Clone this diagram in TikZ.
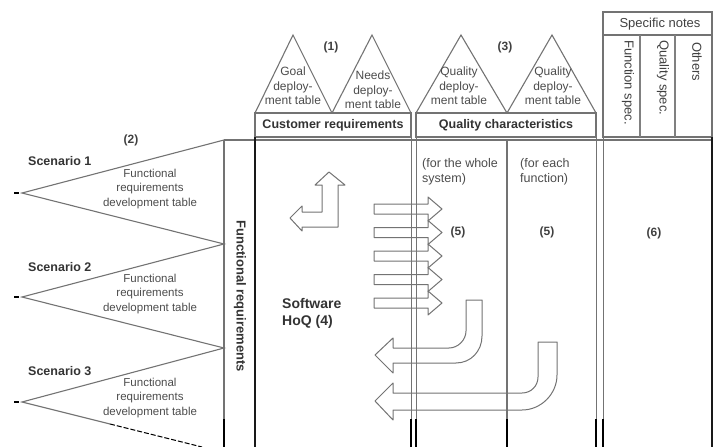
\documentclass[tikz,border=0pt]{standalone}
\usepackage{fontspec}
\setmainfont{Liberation Sans}
\begin{document}
\begin{tikzpicture}[x=1pt,y=-1pt,
  ln/.style={draw=black!55, line width=1.1pt},
  thin/.style={draw=black!55, line width=0.9pt},
  dk/.style={draw=black!90, line width=1.6pt},
  blk/.style={draw=black, line width=1.3pt},
  arr/.style={draw=black!55, line width=1pt, fill=white, line join=round},
  tri/.style={text=black!70, font=\fontsize{12}{14.5}\selectfont, align=center, inner sep=0pt},
  hd/.style={text=black!80, font=\bfseries\fontsize{12.5}{15}\selectfont, inner sep=0pt},
  frt/.style={text=black!70, font=\fontsize{11.5}{14.5}\selectfont, align=center, inner sep=0pt},
  rot/.style={text=black!75, font=\fontsize{13}{15}\selectfont, inner sep=0pt, rotate=-90, anchor=west},
  body/.style={text=black!70, font=\fontsize{12.5}{15}\selectfont, align=left, inner sep=0pt, anchor=west},
  num/.style={text=black!75, font=\bfseries\fontsize{12}{14}\selectfont, inner sep=0pt}]
\useasboundingbox (0,0) rectangle (716,447);

% ---------- arrows (under the lines) ----------
% L-shaped arrow
\draw[arr] (329,172) -- (345,185) -- (338,185) -- (338,227) -- (302,227) -- (302,231)
  -- (290,218) -- (302,206) -- (302,212) -- (322,212) -- (322,185) -- (315,185) -- cycle;
% five right arrows
\foreach \c in {209,232.5,256,279.5,303} {
  \draw[arr] (374,\c-5) -- (428,\c-5) -- (428,\c-12) -- (442,\c) -- (428,\c+12)
    -- (428,\c+5) -- (374,\c+5) -- cycle;
}
% bent arrow A
\draw[arr] (375,355) -- (393,338) -- (393,348) -- (449,348)
  .. controls (458,348) and (466,340) .. (466,331) -- (466,300) -- (482,300) -- (482,336)
  .. controls (482,351) and (471,363) .. (456,363) -- (393,363) -- (393,373) -- cycle;
% bent arrow B
\draw[arr] (375,401) -- (393,383) -- (393,393) -- (522,393)
  .. controls (531,393) and (538,386) .. (538,377) -- (538,342) -- (557,342) -- (557,375)
  .. controls (557,394) and (541,410) .. (522,410) -- (393,410) -- (393,420) -- cycle;

% ---------- top triangles and boxes ----------
\draw[ln] (255,113) -- (293,35) -- (332,113);
\draw[ln] (332,113) -- (372,35) -- (411,113);
\draw[ln] (416,113) -- (461,35) -- (507,113);
\draw[ln] (507,113) -- (552,35) -- (596,113);
\draw[ln] (255,113) rectangle (411,137);
\draw[ln] (416,113) rectangle (596,137);
\draw[ln] (603,12) rectangle (712,35);
\draw[ln] (603,35) rectangle (712,137);
\draw[draw=black!50, line width=2.4pt] (640,35) -- (640,137);
\draw[draw=black!50, line width=2.4pt] (675,35) -- (675,137);

% ---------- body grid ----------
\draw[ln] (224,140) -- (712,140);
\draw[ln] (224,140) -- (224,447);
\draw[dk] (255,137) -- (255,447);
\draw[thin] (411,137) -- (411,447);
\draw[thin] (416,137) -- (416,447);
\draw[ln] (507,140) -- (507,447);
\draw[thin] (596,137) -- (596,447);
\draw[thin] (603,137) -- (603,447);
\draw[dk] (712,137) -- (712,447);
\foreach \xx in {224,411,416,507,596,603} { \draw[blk] (\xx,419) -- (\xx,447); }

% ---------- scenario triangles ----------
\draw[ln] (224,140) -- (22,193) -- (224,244) -- (22,297) -- (224,348) -- (22,402) -- (110,424);
\draw[draw=black, line width=1pt, dash pattern=on 5pt off 2pt] (110,424) -- (202,447);
\foreach \yy in {193,297,402} { \draw[draw=black, line width=1.6pt] (14,\yy) -- (19,\yy); }

% ---------- texts ----------
\node[num] (n1) at (331,47) {(1)};
\node[num] (n3) at (505,47) {(3)};
\node[num] (n2) at (131,140) {(2)};
\node[tri] (goal) at (293,86) {Goal\\deploy-\\ment table};
\node[tri] (needs) at (373,90) {Needs\\deploy-\\ment table};
\node[tri] (qual1) at (459,86) {Quality\\deploy-\\ment table};
\node[tri] (qual2) at (553,86) {Quality\\deploy-\\ment table};
\node[hd] (cust) at (333,125) {Customer requirements};
\node[hd] (qchar) at (506,125) {Quality characteristics};
\node[text=black!75, font=\fontsize{13}{15}\selectfont, inner sep=0pt] (spec) at (660,24) {Specific notes};
\node[rot] (fspec) at (628,40) {Function spec.};
\node[rot] (qspec) at (663,40) {Quality spec.};
\node[rot] (oth) at (697,42) {Others};
\node[rot, font=\bfseries\fontsize{13}{15}\selectfont, text=black!80] (freq) at (240,220) {Functional requirements};

\node[hd, anchor=west] (sc1) at (28,161) {Scenario 1};
\node[hd, anchor=west] (sc2) at (28,267) {Scenario 2};
\node[hd, anchor=west] (sc3) at (28,371) {Scenario 3};
\node[frt] (t1) at (150,189) {Functional\\requirements\\development table};
\node[frt] (t2) at (150,294) {Functional\\requirements\\development table};
\node[frt] (t3) at (150,398) {Functional\\requirements\\development table};

\node[body] (whole) at (422,172) {(for the whole\\system)};
\node[body] (each) at (520,172) {(for each\\function)};
\node[num] (five1) at (458,232) {(5)};
\node[num] (five2) at (547,232) {(5)};
\node[num] (six) at (654,233) {(6)};
\node[body, text=black!80, font=\bfseries\fontsize{14}{17}\selectfont] (hoq) at (282,313) {Software\\HoQ (4)};
\end{tikzpicture}
\end{document}
